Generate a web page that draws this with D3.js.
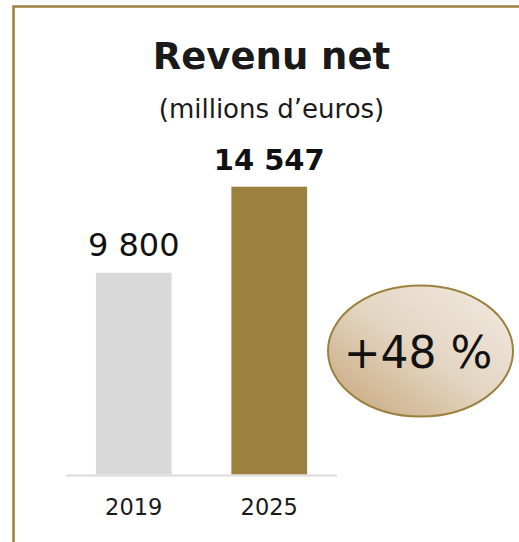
<!DOCTYPE html>
<html><head><meta charset="utf-8">
<script src="https://cdn.jsdelivr.net/npm/d3@7"></script>
<style>body{margin:0;background:#fff;} svg{display:block;}</style>
</head><body>
<script>
const categories = ["2019", "2025"];
const values = [9800, 14547];
const valueLabels = ["9 800", "14 547"];
const growthLabel = "+48 %";
const title = "Revenu net";
const subtitle = "(millions d’euros)";

const W = 519, H = 542;
const FONT = "'DejaVu Sans', sans-serif";
const svg = d3.select("body").append("svg").attr("width", W).attr("height", H);

// frame
svg.append("path").attr("d", `M13.5,${H} L13.5,6.5 L${W},6.5`)
  .attr("fill", "none").attr("stroke", "#9c8040").attr("stroke-width", 2.6);

svg.append("text").attr("x", 271.5).attr("y", 69).attr("text-anchor", "middle")
  .attr("font-family", FONT).attr("font-weight", "bold").attr("font-size", 37)
  .attr("fill", "#1a1a1a").text(title);
svg.append("text").attr("x", 271.5).attr("y", 118).attr("text-anchor", "middle")
  .attr("font-family", FONT).attr("font-size", 26)
  .attr("fill", "#1a1a1a").text(subtitle);

const x = d3.scaleBand().domain(categories).range([66, 337]).paddingInner(0.441).paddingOuter(0.2206);
const y = d3.scaleLinear().domain([-1340, 14547]).range([474.5, 186.7]);
const colors = ["#d9d9d9", "#9c803f"];

svg.selectAll("rect.bar").data(values).join("rect").attr("class", "bar")
  .attr("x", (d, i) => x(categories[i])).attr("width", x.bandwidth())
  .attr("y", d => y(d)).attr("height", d => y(-1340) - y(d))
  .attr("fill", (d, i) => colors[i]);

// baseline axis
svg.append("line").attr("x1", 66).attr("x2", 337).attr("y1", 475.5).attr("y2", 475.5)
  .attr("stroke", "#dcdcdc").attr("stroke-width", 2);

svg.selectAll("text.val").data(values).join("text").attr("class", "val")
  .attr("x", (d, i) => x(categories[i]) + x.bandwidth() / 2)
  .attr("y", d => y(d) - 17)
  .attr("text-anchor", "middle").attr("font-family", FONT)
  .attr("font-weight", (d, i) => i === 1 ? "bold" : "normal")
  .attr("font-size", (d, i) => i === 1 ? 29 : 32).attr("fill", "#111")
  .text((d, i) => valueLabels[i]);

svg.selectAll("text.cat").data(categories).join("text").attr("class", "cat")
  .attr("x", d => x(d) + x.bandwidth() / 2).attr("y", 515)
  .attr("text-anchor", "middle").attr("font-family", FONT).attr("font-size", 22.5)
  .attr("fill", "#1a1a1a").text(d => d);

// growth ellipse
const defs = svg.append("defs");
const g = defs.append("linearGradient").attr("id", "gg").attr("x1", "0%").attr("y1", "100%").attr("x2", "100%").attr("y2", "0%");
g.append("stop").attr("offset", "0%").attr("stop-color", "#c6a477");
g.append("stop").attr("offset", "50%").attr("stop-color", "#e3d5c2");
g.append("stop").attr("offset", "100%").attr("stop-color", "#f2ebe1");
svg.append("ellipse").attr("cx", 420.5).attr("cy", 351).attr("rx", 92.5).attr("ry", 65.5)
  .attr("fill", "url(#gg)").attr("stroke", "#9c8040").attr("stroke-width", 2);
svg.append("text").attr("x", 418).attr("y", 368).attr("text-anchor", "middle")
  .attr("font-family", FONT).attr("font-size", 44).attr("fill", "#111").text(growthLabel);
</script>
</body></html>
